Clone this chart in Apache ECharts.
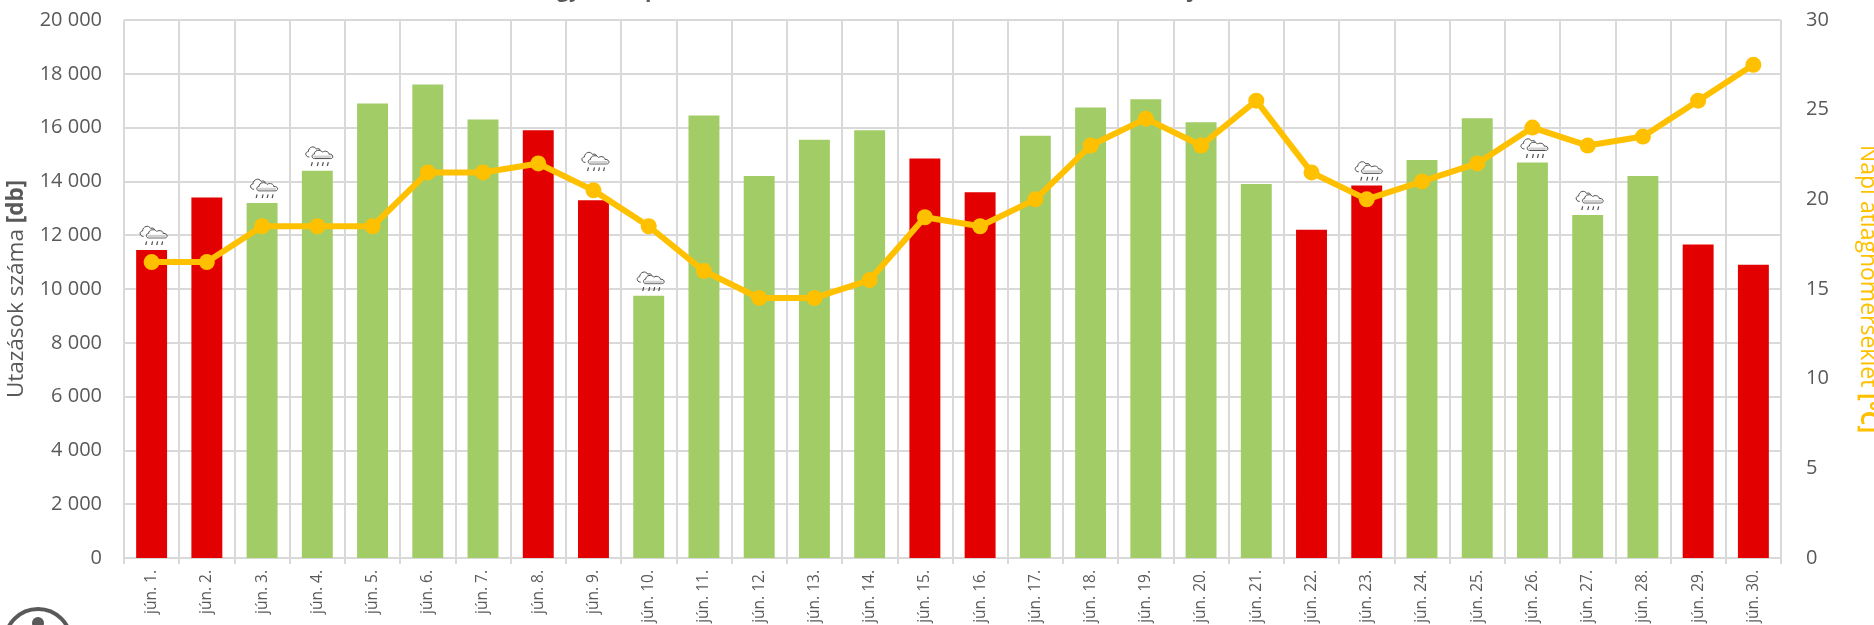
<!DOCTYPE html>
<html>
<head>
<meta charset="utf-8">
<title>Napi utazások</title>
<script src="https://cdn.jsdelivr.net/npm/echarts@6/dist/echarts.min.js"></script>
<style>
  html,body{margin:0;padding:0;background:#fff;overflow:hidden;}
  #chart{width:1874px;height:625px;}
</style>
</head>
<body>
<div id="chart"></div>
<script>
var days = ['jún. 1.','jún. 2.','jún. 3.','jún. 4.','jún. 5.','jún. 6.','jún. 7.','jún. 8.','jún. 9.','jún. 10.',
  'jún. 11.','jún. 12.','jún. 13.','jún. 14.','jún. 15.','jún. 16.','jún. 17.','jún. 18.','jún. 19.','jún. 20.',
  'jún. 21.','jún. 22.','jún. 23.','jún. 24.','jún. 25.','jún. 26.','jún. 27.','jún. 28.','jún. 29.','jún. 30.'];
var trips = [11450,13400,13200,14400,16900,17600,16300,15900,13300,9750,
  16450,14200,15550,15900,14850,13600,15700,16750,17050,16200,
  13900,12200,13850,14800,16350,14700,12750,14200,11650,10900];
var temps = [16.5,16.5,18.5,18.5,18.5,21.5,21.5,22,20.5,18.5,
  16,14.5,14.5,15.5,19,18.5,20,23,24.5,23,
  25.5,21.5,20,21,22,24,23,23.5,25.5,27.5];
// piros oszlopok
var redDays = ['jún. 1.','jún. 2.','jún. 8.','jún. 9.','jún. 15.','jún. 16.','jún. 22.','jún. 23.','jún. 29.','jún. 30.'];
// esos napok es az ikon szintje a bal tengelyen
var rainDays = ['jún. 1.','jún. 3.','jún. 4.','jún. 9.','jún. 10.','jún. 23.','jún. 26.','jún. 27.'];
var rainLevels = [12010,13760,14960,14760,10310,14410,15260,13310];

var grey = '#595959', gridGrey = '#D9D9D9', yellow = '#FFC000';
var font = '"Open Sans"';

var rainSvg = '<svg xmlns="http://www.w3.org/2000/svg" width="60" height="42" viewBox="0 0 30 21">' +
  '<path d="M5 12 C1 12 0 7 4 6.5 C4 2 10 0 12 4 C14 3 16 4 16 5.5" fill="#fff" stroke="#222" stroke-width="1"/>' +
  '<path d="M10 13.5 C7 13.5 7 9 10 9 C10 5 16 4 18 7 C21 5 25 7 24.5 9 C29 8.5 30 13.5 26 13.5 Z" fill="#fff" stroke="#222" stroke-width="1"/>' +
  '<path d="M10.5 13 H25.5 C27 12.5 27.500 11 27 10.500 H9 C8.500 11 9 12.500 10.500 13 Z" fill="#c8c8c8"/>' +
  '<path d="M7 21 L8 17 M13 21 L14 17 M18 21 L19 17 M23 21 L24 17" stroke="#222" stroke-width="1.200"/>' +
  '</svg>';
var rainIcon = 'image://data:image/svg+xml;charset=utf-8,' + encodeURIComponent(rainSvg);

function thousands(v){
  return String(v).replace(/\B(?=(\d{3})+$)/g,' ');
}

var option = {
  animation:false,
  backgroundColor:'#fff',
  textStyle:{fontFamily:font},
  title:{
    text:'Egyedi napi utazások száma és a kinti hőmérséklet alakulása júniusban',
    left:914,
    top:-24,
    textAlign:'center',
    textStyle:{color:grey,fontSize:21,fontWeight:'bold',fontFamily:font}
  },
  grid:{left:124,right:93,top:20,bottom:67,outerBoundsMode:'none'},
  xAxis:{
    type:'category',
    data:days,
    axisLine:{lineStyle:{color:gridGrey,width:2}},
    axisTick:{show:true,length:6,lineStyle:{color:gridGrey,width:2}},
    axisLabel:{rotate:90,interval:0,color:grey,fontSize:15.5,margin:12,fontFamily:font},
    splitLine:{show:true,interval:0,lineStyle:{color:gridGrey,width:2}}
  },
  yAxis:[{
    type:'value',
    min:0,max:20000,interval:2000,
    name:'{a|Utazások száma }{b|[db]}',
    nameLocation:'middle',
    nameRotate:90,
    nameGap:96,
    nameTextStyle:{rich:{
      a:{color:grey,fontSize:22.5,fontFamily:font},
      b:{color:grey,fontSize:22.5,fontWeight:'bold',fontFamily:font}
    }},
    axisLine:{show:false},
    axisTick:{show:false},
    axisLabel:{color:grey,fontSize:20,margin:22,fontFamily:font,formatter:thousands},
    splitLine:{show:true,lineStyle:{color:gridGrey,width:2}}
  },{
    type:'value',
    min:0,max:30,interval:5,
    name:'{a|Napi átlaghőmérséklet }{b|[°C]}',
    nameLocation:'middle',
    nameRotate:-90,
    nameGap:75,
    nameTextStyle:{rich:{
      a:{color:yellow,fontSize:23,fontFamily:font},
      b:{color:yellow,fontSize:23,fontWeight:'bold',fontFamily:font}
    }},
    axisLine:{show:false},
    axisTick:{show:false},
    axisLabel:{color:grey,fontSize:20,margin:25,fontFamily:font},
    splitLine:{show:false}
  }],
  series:[{
    name:'Utazások',
    type:'bar',
    barWidth:'56%',
    data:trips.map(function(v,i){
      return {value:v,itemStyle:{color:redDays.indexOf(days[i])>=0?'#E30000':'#A2CD66'}};
    })
  },{
    name:'Eső',
    type:'scatter',
    symbol:rainIcon,
    symbolSize:[30,21],
    symbolOffset:[2,0],
    z:3,
    silent:true,
    data:rainDays.map(function(d,i){
      return [d,rainLevels[i]];
    })
  },{
    name:'Hőmérséklet',
    type:'line',
    yAxisIndex:1,
    symbol:'circle',
    symbolSize:16,
    z:4,
    lineStyle:{color:yellow,width:6},
    itemStyle:{color:yellow},
    data:temps
  }],
  graphic:[
    {type:'circle',shape:{cx:38,cy:642,r:33},style:{fill:'none',stroke:grey,lineWidth:4}},
    {type:'circle',shape:{cx:38,cy:623,r:6},style:{fill:grey}}
  ]
};

var myChart = echarts.init(document.getElementById('chart'));
myChart.setOption(option);
</script>
</body>
</html>
